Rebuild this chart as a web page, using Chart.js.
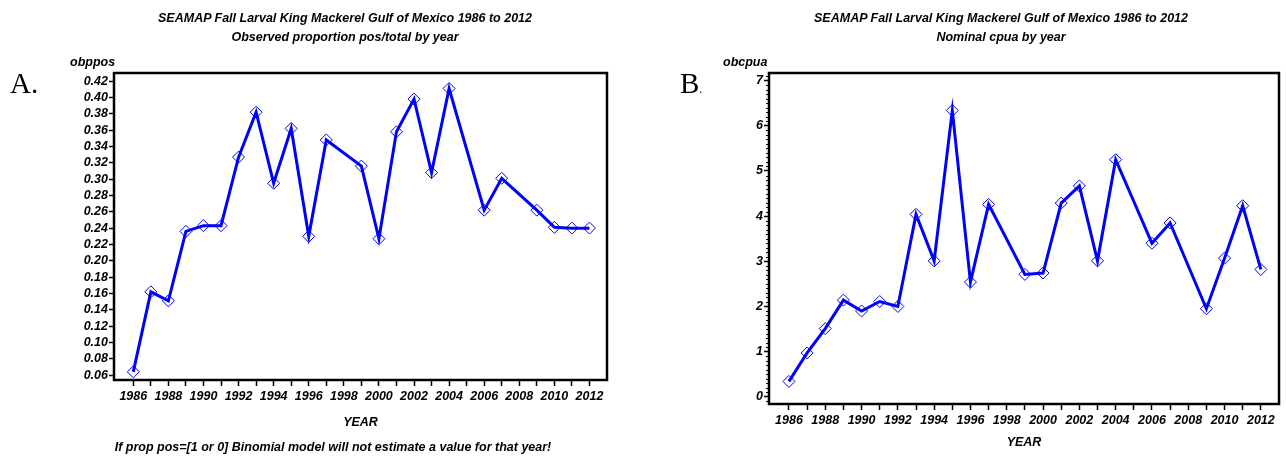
<!DOCTYPE html>
<html>
<head>
<meta charset="utf-8">
<script src="https://cdn.jsdelivr.net/npm/chart.js@4.4.0/dist/chart.umd.min.js"></script>
<style>
body { margin:0; width:1286px; height:457px; background:#fff; position:relative; overflow:hidden; font-family:"Liberation Sans", Arial, sans-serif; }
.box { position:absolute; top:0; width:643px; height:457px; }
.t { position:absolute; font-style:italic; font-weight:bold; font-size:12.5px; color:#000; white-space:nowrap; line-height:14px; }
.c { transform:translateX(-50%); text-align:center; }
.panel { position:absolute; font-family:"Liberation Serif", "Times New Roman", serif; font-size:29px; color:#000; }
</style>
</head>
<body>
<div class="box" style="left:0"><canvas id="chartA" width="643" height="457"></canvas></div>
<div class="box" style="left:643px"><canvas id="chartB" width="643" height="457"></canvas></div>

<div class="t c" style="left:345px; top:11px">SEAMAP Fall Larval King Mackerel Gulf of Mexico 1986 to 2012</div>
<div class="t c" style="left:345px; top:30px">Observed proportion pos/total by year</div>
<div class="t c" style="left:1001px; top:11px">SEAMAP Fall Larval King Mackerel Gulf of Mexico 1986 to 2012</div>
<div class="t c" style="left:1001px; top:30px">Nominal cpua by year</div>

<div class="t" style="left:70px; top:55px">obppos</div>
<div class="t" style="left:723px; top:55px">obcpua</div>

<div class="panel" style="left:10px; top:67px">A.</div>
<div class="panel" style="left:680px; top:67px">B<span style="font-size:12px">.</span></div>

<div class="t c" style="left:333px; top:440px">If prop pos=[1 or 0] Binomial model will not estimate a value for that year!</div>

<script>
// years sampled (1998, 2005, 2008 have no value)
var years = [1986,1987,1988,1989,1990,1991,1992,1993,1994,1995,1996,1997,
             1999,2000,2001,2002,2003,2004,2006,2007,2009,2010,2011,2012];
// A. observed proportion positive / total
var obppos = [0.064,0.162,0.151,0.236,0.243,0.243,0.327,0.382,0.295,0.362,0.230,0.348,
              0.316,0.227,0.358,0.398,0.308,0.411,0.262,0.301,0.262,0.241,0.240,0.240];
// B. nominal cpua
var obcpua = [0.34,0.97,1.51,2.14,1.90,2.11,2.00,4.04,3.01,6.34,2.54,4.26,
              2.71,2.74,4.29,4.67,3.01,5.25,3.40,3.85,1.95,3.07,4.23,2.82];

var blue = '#0000ff';
var tickFont = { family: 'Liberation Sans', size: 12.5, style: 'italic', weight: 'bold' };

function toPoints(xs, ys){
    var pts = [];
    for(var i = 0; i < xs.length; i++){
        pts.push({ x: xs[i], y: ys[i] });
    }
    return pts;
}

// black frame all round the plot + optional short minor ticks on y
var framePlugin = {
    id: 'frame',
    afterDraw: function(chart){
        var a = chart.chartArea, ctx = chart.ctx;
        var minor = chart.options.plugins.frame.minorY;
        ctx.save();
        if(minor){
            var ys = chart.scales.y;
            ctx.strokeStyle = '#000';
            ctx.lineWidth = 1;
            ctx.beginPath();
            for(var v = Math.ceil(ys.min * 10); v <= ys.max * 10; v++){
                if(v % 10 == 0) continue;
                var py = Math.round(ys.getPixelForValue(v / 10)) + 0.5;
                ctx.moveTo(a.left - 3, py);
                ctx.lineTo(a.left, py);
            }
            ctx.stroke();
        }
        ctx.strokeStyle = '#000';
        ctx.lineWidth = 2.5;
        ctx.strokeRect(a.left, a.top, a.right - a.left, a.bottom - a.top);
        ctx.restore();
    }
};

function xAxis(h){
    return {
        type: 'linear',
        min: 1984.9,
        max: 2013,
        afterFit: function(s){ s.height = h; },
        grid: {
            drawOnChartArea: false,
            tickLength: 6,
            tickWidth: 1.5,
            tickColor: function(c){
                var v = c.tick ? c.tick.value : 0;
                return (v >= 1986 && v <= 2012) ? '#000' : 'rgba(0,0,0,0)';
            }
        },
        border: { display: false },
        ticks: {
            stepSize: 1,
            autoSkip: false,
            maxRotation: 0,
            includeBounds: false,
            color: '#000',
            font: tickFont,
            padding: 3,
            callback: function(v){ return (v % 2 == 0 && v >= 1986 && v <= 2012) ? String(v) : ''; }
        },
        title: { display: true, text: 'YEAR', color: '#000', font: tickFont, padding: 0 }
    };
}

function lineSet(pts){
    return {
        data: pts,
        borderColor: blue,
        borderWidth: 3,
        pointStyle: 'rectRot',
        pointRadius: 6,
        pointBorderWidth: 1,
        pointBorderColor: blue,
        pointBackgroundColor: 'rgba(0,0,0,0)',
        tension: 0
    };
}

new Chart(document.getElementById('chartA'), {
    type: 'line',
    data: { datasets: [ lineSet(toPoints(years, obppos)) ] },
    options: {
        responsive: false,
        animation: false,
        layout: { padding: { top: 73, right: 36, bottom: 27, left: 0 } },
        plugins: { legend: { display: false }, tooltip: { enabled: false }, frame: { minorY: false } },
        scales: {
            x: xAxis(50),
            y: {
                min: 0.054,
                max: 0.43,
                afterFit: function(s){ s.width = 114; },
                grid: { drawOnChartArea: false, tickLength: 5, tickWidth: 1.5, tickColor: '#000' },
                border: { display: false },
                ticks: {
                    stepSize: 0.02,
                    autoSkip: false,
                    includeBounds: false,
                    color: '#000',
                    font: tickFont,
                    padding: 1,
                    callback: function(v){ return v.toFixed(2); }
                }
            }
        }
    },
    plugins: [framePlugin]
});

new Chart(document.getElementById('chartB'), {
    type: 'line',
    data: { datasets: [ lineSet(toPoints(years, obcpua)) ] },
    options: {
        responsive: false,
        animation: false,
        layout: { padding: { top: 73, right: 4, bottom: 7, left: 0 } },
        plugins: { legend: { display: false }, tooltip: { enabled: false }, frame: { minorY: true } },
        scales: {
            x: xAxis(46),
            y: {
                min: -0.16,
                max: 7.17,
                afterFit: function(s){ s.width = 126; },
                grid: { drawOnChartArea: false, tickLength: 5, tickWidth: 1.5, tickColor: '#000' },
                border: { display: false },
                ticks: {
                    stepSize: 1,
                    autoSkip: false,
                    includeBounds: false,
                    color: '#000',
                    font: tickFont,
                    padding: 1,
                    callback: function(v){ return String(v); }
                }
            }
        }
    },
    plugins: [framePlugin]
});
</script>
</body>
</html>
